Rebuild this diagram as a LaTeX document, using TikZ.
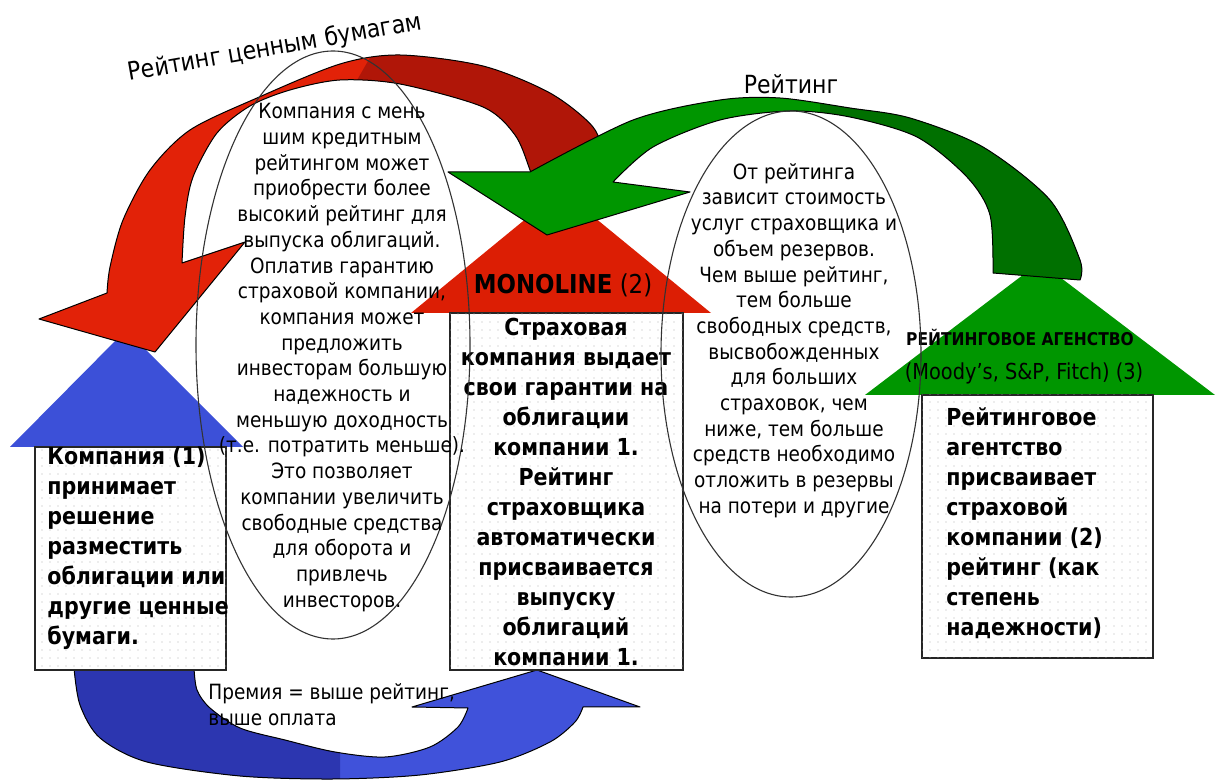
\documentclass[tikz,border=0pt]{standalone}
\usepackage{fontspec}
\setmainfont[FakeStretch=0.88]{DejaVu Sans}
\usetikzlibrary{shapes.geometric,patterns}
\definecolor{redL}{RGB}{226,34,8}
\definecolor{redD}{RGB}{176,22,8}
\definecolor{redRoof}{RGB}{220,30,4}
\definecolor{greenL}{RGB}{0,150,0}
\definecolor{greenD}{RGB}{0,112,0}
\definecolor{blueL}{RGB}{64,82,218}
\definecolor{blueD}{RGB}{44,54,176}
\definecolor{blueRoof}{RGB}{60,80,216}
\pgfdeclarepatternformonly{sparsedots}{\pgfpoint{-0.5pt}{-0.5pt}}{\pgfpoint{4.5pt}{4.5pt}}{\pgfpoint{4pt}{4pt}}{\pgfpathcircle{\pgfpoint{1pt}{1pt}}{0.3pt}\pgfusepath{fill}}
\begin{document}
\begin{tikzpicture}[x=0.5pt,y=-0.5pt,
  outline/.style={draw=black, line width=0.5pt, line join=round},
  housebox/.style={draw=black!85, line width=0.6pt, fill=white, postaction={pattern=sparsedots, pattern color=black!30}, inner sep=0pt},
  oval/.style={draw=black!80, line width=0.55pt, ellipse, inner sep=0pt},
  etext/.style={align=center, inner sep=0pt, font=\fontsize{10.5}{12.85}\selectfont},
  btext/.style={inner sep=0pt, font=\fontsize{11.7}{15}\selectfont\bfseries},
  title/.style={inner sep=0pt, font=\fontsize{12.5}{14}\selectfont}]
\useasboundingbox (0,0) rectangle (1228,780);
\fill[white] (0,0) rectangle (1228,780);

\def\bluearrow{plot[smooth] coordinates {(74,668) (80,705) (100,738) (147,762) (240,776) (333,779) (420,775) (500,762) (550,742) (575,722) (583,707)} -- (640,707) -- (537,670) -- (412,707) -- (468,708) -- plot[smooth] coordinates {(468,708) (458,727) (430,747) (385,757) (335,752) (285,740) (240,728) (210,708) (197,690) (194,668)} -- cycle}
\def\redarrow{plot[smooth] coordinates {(615,195) (605,160) (593,127) (550,93) (483,66) (400,55) (340,64) (257,98) (190,130) (150,170) (123,220) (110,267) (107,293)} -- (39,319) -- (155,352) -- (245,242) -- (182,263) -- plot[smooth] coordinates {(182,263) (185,217) (193,177) (217,133) (250,106) (290,90) (340,80) (400,84) (483,107) (515,135) (530,170) (545,215)} -- cycle}
\def\greenarrow{(530,172) -- (448,172) -- (547,235) -- (690,192) -- (613,182) -- plot[smooth] coordinates {(613,182) (653,147) (720,120) (790,111) (850,117) (917,137) (967,177) (990,215) (993,273)} -- (1080,280) -- plot[smooth] coordinates {(1080,280) (1080,260) (1050,200) (983,147) (910,118) (850,108) (780,98) (720,100) (633,120) (530,172)} -- cycle}

% blue arrow (bottom)
\fill[blueL] \bluearrow;
\begin{scope}
  \clip (0,600) rectangle (340,780);
  \fill[blueD] \bluearrow;
\end{scope}
\draw[outline] \bluearrow;

% blue roof
\fill[blueRoof] (10,447) -- (126,330) -- (243,447) -- cycle;

% red arrow
\fill[redL] \redarrow;
\begin{scope}
  \clip (403,0) -- (800,0) -- (800,300) -- (231,300) -- cycle;
  \fill[redD] \redarrow;
\end{scope}
\draw[outline] \redarrow;

% red roof
\fill[redRoof] (411,313) -- (561,190) -- (711,313) -- cycle;

% green roof
\fill[greenL] (865,395) -- (1040,262) -- (1215,395) -- cycle;

% green arrow
\fill[greenL] \greenarrow;
\begin{scope}
  \clip (820,0) rectangle (1228,400);
  \fill[greenD] \greenarrow;
\end{scope}
\draw[outline] \greenarrow;

% boxes
\node[housebox, minimum width=95.5pt, minimum height=111.5pt] (box1) at (130.5,558.5) {};
\node[housebox, minimum width=116.5pt, minimum height=178.5pt] (box2) at (566.5,491.5) {};
\node[housebox, minimum width=115.5pt, minimum height=131.5pt] (box3) at (1037.5,526.5) {};

% box texts
\node[btext, align=left, anchor=west] (t1) at (47,548) {Компания (1)\\принимает\\решение\\разместить\\облигации или\\другие ценные\\бумаги.};
\node[btext, align=center] (t2) at (566,492) {Страховая\\компания выдает\\свои гарантии на\\облигации\\компании 1.\\Рейтинг\\страховщика\\автоматически\\присваивается\\выпуску\\облигаций\\компании 1.};
\node[btext, align=left, anchor=west] (t3) at (946,523) {Рейтинговое\\агентство\\присваивает\\страховой\\компании (2)\\рейтинг (как\\степень\\надежности)};

% roof labels
\node[inner sep=0pt, font=\fontsize{13}{15}\selectfont] (mono) at (563,285) {\textbf{MONOLINE} (2)};
\node[inner sep=0pt, font=\fontsize{8.8}{10}\selectfont\bfseries] (agency) at (1020,337) {РЕЙТИНГОВОЕ АГЕНСТВО};
\node[inner sep=0pt, font=\fontsize{11}{12}\selectfont] (moody) at (1024,373) {(Moody's, S\&P, Fitch) (3)};

% ellipses
\node[oval, minimum width=137pt, minimum height=294pt] (e1) at (333,345) {};
\node[oval, minimum width=130pt, minimum height=243pt] (e2) at (791,354) {};

\node[etext] (et1) at (342,357.5) {Компания с мень\\шим кредитным\\рейтингом может\\приобрести более\\высокий рейтинг для\\выпуска облигаций.\\Оплатив гарантию\\страховой компании,\\компания может\\предложить\\инвесторам большую\\надежность и\\меньшую доходность\\(т.е. потратить меньше).\\Это позволяет\\компании увеличить\\свободные средства\\для оборота и\\привлечь\\инвесторов.};
\node[etext] (et2) at (794,340.5) {От рейтинга\\зависит стоимость\\услуг страховщика и\\объем резервов.\\Чем выше рейтинг,\\тем больше\\свободных средств,\\высвобожденных\\для больших\\страховок, чем\\ниже, тем больше\\средств необходимо\\отложить в резервы\\на потери и другие};

% arrow labels
\node[title, rotate=10] (lab1) at (275,48) {Рейтинг ценным бумагам};
\node[title] (lab2) at (791,84) {Рейтинг};
\node[etext, align=left, anchor=west] (lab3) at (208,705) {Премия = выше рейтинг,\\выше оплата};
\end{tikzpicture}
\end{document}
